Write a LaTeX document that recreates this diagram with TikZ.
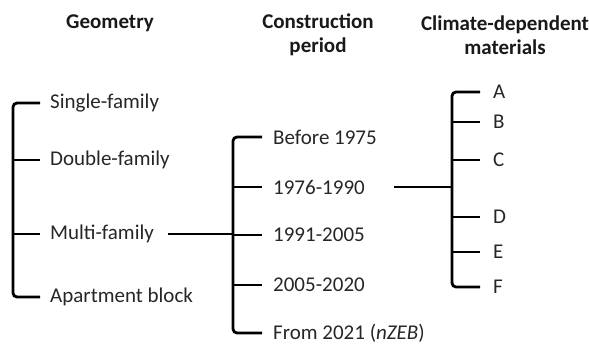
\documentclass[tikz,border=0pt]{standalone}
\usepackage{fontspec}
\setmainfont{Carlito}
\usetikzlibrary{calc}

\begin{document}
\begin{tikzpicture}[
          x=1pt, y=1pt,
          heading/.style={font=\fontsize{21}{24}\selectfont\bfseries, align=center, text=black!90},
          item/.style={font=\fontsize{21}{24}\selectfont, anchor=west, inner sep=0pt, text=black!85},
          bracket/.style={line width=2.8pt, rounded corners=4pt},
          link/.style={line width=2.8pt},
          ]

          \useasboundingbox (0,0) rectangle (589,-346);

          \node[heading] (geom) at (110,-23) {Geometry};
          \node[heading] (period) at (318,-35) {Construction\\period};
          \node[heading] (climate) at (505,-35) {Climate-dependent\\materials};

          \node[item] (single) at (50,-103) {Single-family};
          \node[item] (double) at (50,-160) {Double-family};
          \node[item] (multi) at (50,-234) {Multi-family};
          \node[item] (apart) at (50,-297) {Apartment block};

          \node[item] (p75) at (273,-137) {Before 1975};
          \node[item] (p76) at (273,-187) {1976-1990};
          \node[item] (p91) at (273,-235) {1991-2005};
          \node[item] (p05) at (273,-285) {2005-2020};
          \node[item] (p21) at (273,-333) {From 2021 (\textit{nZEB})};

          \node[item] (mA) at (493,-92) {A};
          \node[item] (mB) at (493,-122) {B};
          \node[item] (mC) at (493,-160) {C};
          \node[item] (mD) at (493,-217) {D};
          \node[item] (mE) at (493,-252) {E};
          \node[item] (mF) at (493,-287) {F};

          \coordinate (geomspine) at (13,-200);
          \coordinate (periodspine) at (233,-230);
          \coordinate (climspine) at (452,-190);

          % geometry
          \draw[bracket] ([xshift=-10pt]single.west) -| (geomspine) |- ([xshift=-10pt]apart.west);
          \foreach \n in {double, multi}
            \draw[link] (\n.west -| geomspine) -- ([xshift=-10pt]\n.west);

          % construction period
          \draw[bracket] ([xshift=-11pt]p75.west) -| (periodspine) |- ([xshift=-11pt]p21.west);
          \foreach \n in {p76, p91, p05}
            \draw[link] (\n.west -| periodspine) -- ([xshift=-11pt]\n.west);

          % materials
          \draw[bracket] ([xshift=-13pt]mA.west) -| (climspine) |- ([xshift=-13pt]mF.west);
          \foreach \n in {mB, mC, mD, mE}
            \draw[link] (\n.west -| climspine) -- ([xshift=-13pt]\n.west);

          \draw[link] ([xshift=14pt]multi.east) -- (multi.east -| periodspine);
          \draw[link] ([xshift=29pt]p76.east) -- (p76.east -| climspine);

        \end{tikzpicture}
\end{document}
